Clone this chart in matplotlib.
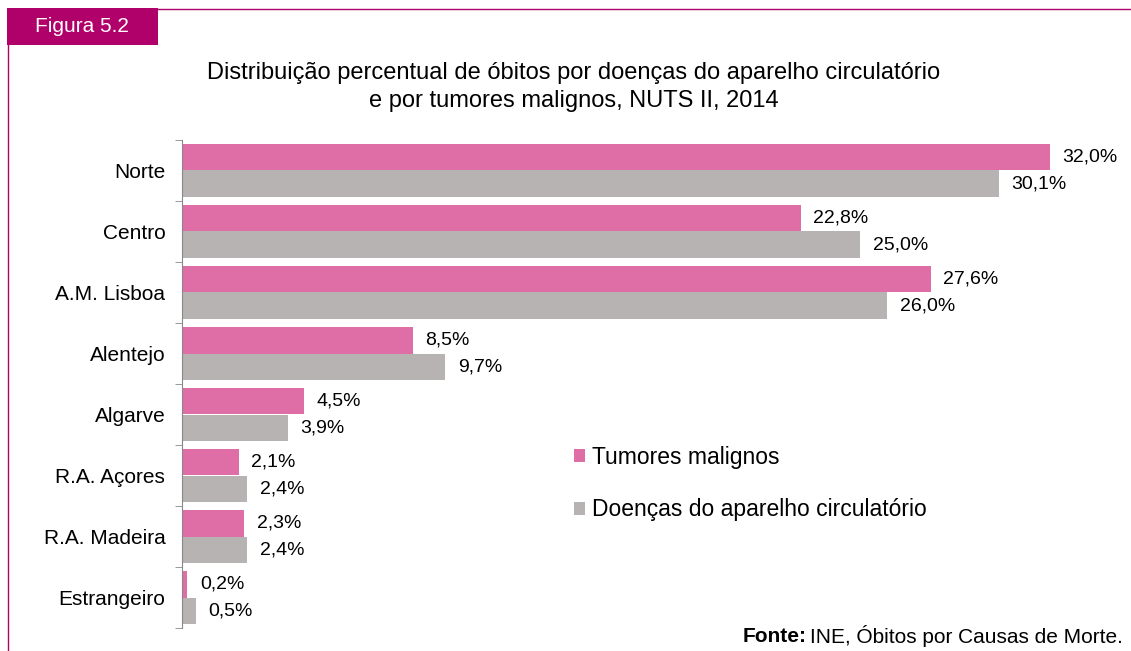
import matplotlib.pyplot as plt
import numpy as np
from matplotlib.patches import Rectangle
from matplotlib.lines import Line2D

plt.rcParams['font.family'] = ['Liberation Sans', 'DejaVu Sans']

regions = ['Norte', 'Centro', 'A.M. Lisboa', 'Alentejo', 'Algarve',
           'R.A. Açores', 'R.A. Madeira', 'Estrangeiro']
tumores = [32.0, 22.8, 27.6, 8.5, 4.5, 2.1, 2.3, 0.2]
circulatorio = [30.1, 25.0, 26.0, 9.7, 3.9, 2.4, 2.4, 0.5]

pink = '#E06EA6'
grey = '#B8B3B3'
magenta = '#B0006A'

W, H = 1131, 651
fig = plt.figure(figsize=(W / 100, H / 100), dpi=100)

# frame and "Figura" tab (figure pixel coords)
def px(x, y):
    return x / W, 1 - y / H

fig.add_artist(Rectangle(px(7, 45), 151 / W, 37 / H, transform=fig.transFigure,
                         facecolor=magenta, edgecolor='none'))
fig.text(*px(82, 27), 'Figura 5.2', color='white', fontsize=15,
         ha='center', va='center')
fig.add_artist(Line2D([158 / W, 1], [1 - 8.5 / H, 1 - 8.5 / H],
                      transform=fig.transFigure, color=magenta, lw=1))
fig.add_artist(Line2D([8 / W, 8 / W], [1 - 45 / H, 0],
                      transform=fig.transFigure, color=magenta, lw=1))

fig.text(*px(574, 73), 'Distribuição percentual de óbitos por doenças do aparelho circulatório',
         fontsize=17, ha='center', va='center')
fig.text(*px(574, 101), 'e por tumores malignos, NUTS II, 2014',
         fontsize=17, ha='center', va='center')

ax = fig.add_axes([182 / W, 1 - 628 / H, (W - 182) / W, (628 - 140) / H])

n = len(regions)
y = np.arange(n)
bh = 0.43
ax.barh(y - bh / 2, tumores, height=bh, color=pink, label='Tumores malignos')
ax.barh(y + bh / 2, circulatorio, height=bh, color=grey,
        label='Doenças do aparelho circulatório')

for i in range(n):
    ax.annotate(f'{tumores[i]:.1f}%'.replace('.', ','), (tumores[i], y[i] - bh / 2),
                xytext=(9, 0), textcoords='offset points', va='center', fontsize=14)
    ax.annotate(f'{circulatorio[i]:.1f}%'.replace('.', ','), (circulatorio[i], y[i] + bh / 2),
                xytext=(9, 0), textcoords='offset points', va='center', fontsize=14)

ax.set_xlim(0, (W - 183) / 27.1)
ax.set_ylim(n - 0.5, -0.5)
ax.set_yticks(y)
ax.set_yticklabels(regions, fontsize=15)
ax.set_yticks(np.arange(n + 1) - 0.5, minor=True)
ax.tick_params(axis='y', which='major', length=0, pad=12)
ax.tick_params(axis='y', which='minor', length=5, color='#888888')
ax.set_xticks([])
for s in ['top', 'right', 'bottom']:
    ax.spines[s].set_visible(False)
ax.spines['left'].set_color('#888888')

ax.legend(loc='upper left', bbox_to_anchor=(px(553, 0)[0], px(0, 425)[1]),
          bbox_transform=fig.transFigure, frameon=False, fontsize=16.5,
          handlelength=0.5, handleheight=0.5, handletextpad=0.3, labelspacing=1.29)

fig.text(*px(743, 636), 'Fonte:', fontsize=15, fontweight='bold', va='center')
fig.text(*px(810, 636), 'INE, Óbitos por Causas de Morte.', fontsize=15, va='center')

fig.savefig('out.png', dpi=100)
